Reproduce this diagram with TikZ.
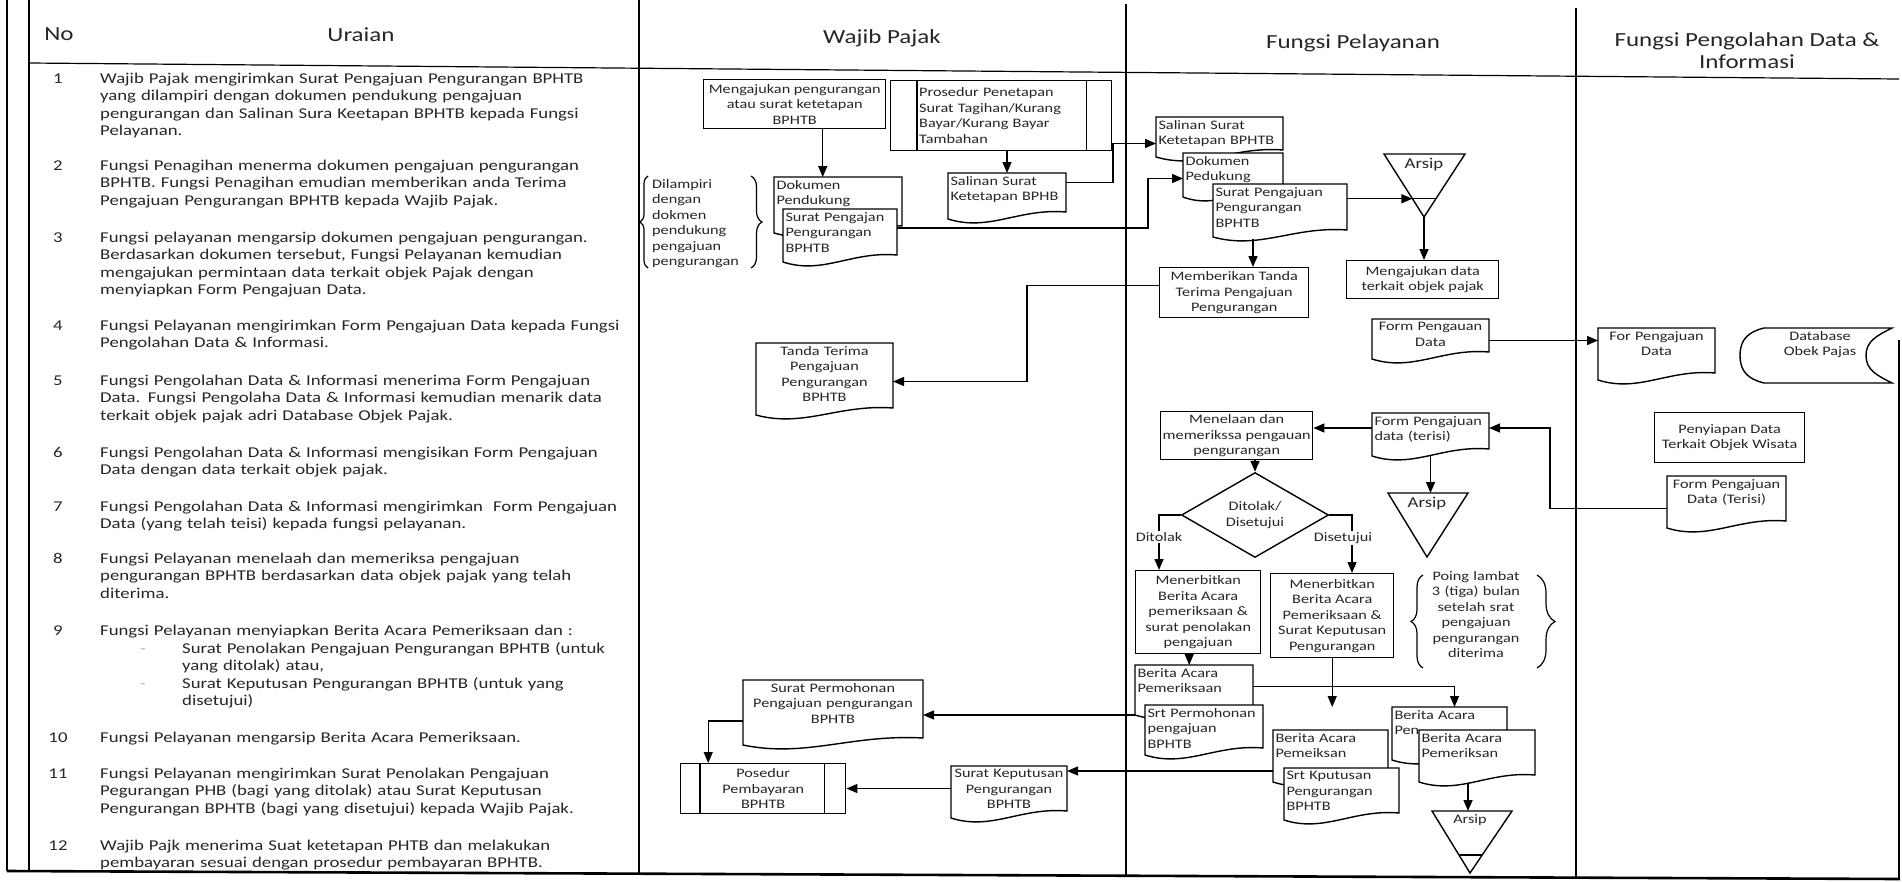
\documentclass[tikz,border=0pt]{standalone}
\usepackage{fontspec}
\setmainfont{Carlito}[FakeStretch=1.25]
\usetikzlibrary{calc,arrows.meta,shapes.geometric,decorations.pathreplacing}

\newcommand\chartfont{\fontsize{13}{15.5}\selectfont}
\newcommand\itemfont{\fontsize{15}{17.5}\selectfont}
\newcommand\headfont{\fontsize{20}{22}\selectfont}

\tikzset{
  thickrule/.style={line width=2.6pt},
  thinrule/.style={line width=1.2pt},
  link/.style={line width=1.4pt},
  arr/.style={link, -{Triangle[length=11pt,width=9pt]}},
  proc/.style={draw, line width=1.4pt, anchor=north west, inner sep=1pt, align=center, font=\chartfont},
  docarea/.style={anchor=north west, inner sep=0pt, outer sep=0pt},
  doctext/.style={anchor=north, inner sep=0pt, font=\chartfont},
  docline/.style={line width=1.4pt, fill=white},
  tri/.style={line width=1.4pt},
  brc/.style={decorate, decoration={brace, amplitude=#1}, line width=1.2pt},
  lbl/.style={inner sep=1pt, font=\chartfont},
  colhead/.style={inner sep=0pt, align=center, font=\headfont},
  nomor/.style={anchor=base, inner sep=0pt, font=\itemfont},
  uraian/.style={anchor=base west, inner sep=0pt, text width=545pt, align=left, font=\itemfont},
}

% document symbol: name, align, top-left, width, height, text
\newcommand{\docnode}[6]{%
  \node[docarea, minimum width=#4pt, minimum height=#5pt] (#1) at (#3) {};
  \draw[docline] (#1.north west) -- (#1.north east) -- (#1.south east)
    .. controls ($(#1.south west)!0.6!(#1.south east)+(0,4)$) and ($(#1.south west)!0.35!(#1.south east)+(0,-20)$)
    .. ($(#1.south west)+(0,-7)$) -- cycle;
  \pgfmathsetmacro\doctw{#4-5}%
  \node[doctext, text width=\doctw pt, align=#2] (#1-t) at ($(#1.north)+(0,-3)$) {#6};}

\begin{document}
\begin{tikzpicture}[x=1pt, y=1pt, every node/.append style={text=black!85}]
  \useasboundingbox (0,0) rectangle (1902,-881);

  %%%%% TABLE %%%%%
  \draw[thickrule] (7,0) -- (7,-871);
  \draw[thinrule] (29,0) -- (29,-871);
  \draw[thinrule] (639,0) -- (639,-873);
  \draw[thinrule] (1126,-4) -- (1126,-875);
  \draw[thinrule] (1576,-8) -- (1576,-877);
  \draw[thinrule] (1899,-340) -- (1899,-879);
  \draw[thinrule] (29,-63) -- (1899,-79);
  \draw[thickrule] (7,-871) -- (1900,-879);

  \node[colhead] (hno) at (59,-34) {No};
  \node[colhead] (hur) at (361,-35) {Uraian};
  \node[colhead] (hwp) at (882,-38) {Wajib Pajak};
  \node[colhead] (hfp) at (1353,-43) {Fungsi Pelayanan};
  \node[colhead] (hpd) at (1747,-51) {Fungsi Pengolahan Data \&\\Informasi};

  %%%%% URAIAN %%%%%
  \node[nomor] (n1) at (58,-83) {1};
  \node[uraian] (u1) at (100,-83) {Wajib Pajak mengirimkan Surat Pengajuan Pengurangan BPHTB\\yang dilampiri dengan dokumen pendukung pengajuan\\pengurangan dan Salinan Sura Keetapan BPHTB kepada Fungsi\\Pelayanan.};
  \node[nomor] (n2) at (58,-170) {2};
  \node[uraian] (u2) at (100,-170) {Fungsi Penagihan menerma dokumen pengajuan pengurangan\\BPHTB. Fungsi Penagihan emudian memberikan anda Terima\\Pengajuan Pengurangan BPHTB kepada Wajib Pajak.};
  \node[nomor] (n3) at (58,-242) {3};
  \node[uraian] (u3) at (100,-242) {Fungsi pelayanan mengarsip dokumen pengajuan pengurangan.\\Berdasarkan dokumen tersebut, Fungsi Pelayanan kemudian\\mengajukan permintaan data terkait objek Pajak dengan\\menyiapkan Form Pengajuan Data.};
  \node[nomor] (n4) at (58,-330) {4};
  \node[uraian] (u4) at (100,-330) {Fungsi Pelayanan mengirimkan Form Pengajuan Data kepada Fungsi\\Pengolahan Data \& Informasi.};
  \node[nomor] (n5) at (58,-385) {5};
  \node[uraian] (u5) at (100,-385) {Fungsi Pengolahan Data \& Informasi menerima Form Pengajuan\\Data. Fungsi Pengolaha Data \& Informasi kemudian menarik data\\terkait objek pajak adri Database Objek Pajak.};
  \node[nomor] (n6) at (58,-457) {6};
  \node[uraian] (u6) at (100,-457) {Fungsi Pengolahan Data \& Informasi mengisikan Form Pengajuan\\Data dengan data terkait objek pajak.};
  \node[nomor] (n7) at (58,-511) {7};
  \node[uraian] (u7) at (100,-511) {Fungsi Pengolahan Data \& Informasi mengirimkan\ \ Form Pengajuan\\Data (yang telah teisi) kepada fungsi pelayanan.};
  \node[nomor] (n8) at (58,-563) {8};
  \node[uraian] (u8) at (100,-563) {Fungsi Pelayanan menelaah dan memeriksa pengajuan\\pengurangan BPHTB berdasarkan data objek pajak yang telah\\diterima.};
  \node[nomor] (n9) at (58,-635) {9};
  \node[uraian] (u9) at (100,-635) {Fungsi Pelayanan menyiapkan Berita Acara Pemeriksaan dan :};
  \node[nomor, text=black!30] (b9a) at (143,-653) {-};
  \node[nomor, text=black!30] (b9b) at (143,-688) {-};
  \node[uraian, text width=460pt] (u9s) at (182,-653) {Surat Penolakan Pengajuan Pengurangan BPHTB (untuk\\yang ditolak) atau,\\Surat Keputusan Pengurangan BPHTB (untuk yang\\disetujui)};
  \node[nomor] (n10) at (58,-742) {10};
  \node[uraian] (u10) at (100,-742) {Fungsi Pelayanan mengarsip Berita Acara Pemeriksaan.};
  \node[nomor] (n11) at (58,-778) {11};
  \node[uraian] (u11) at (100,-778) {Fungsi Pelayanan mengirimkan Surat Penolakan Pengajuan\\Pegurangan PHB (bagi yang ditolak) atau Surat Keputusan\\Pengurangan BPHTB (bagi yang disetujui) kepada Wajib Pajak.};
  \node[nomor] (n12) at (58,-850) {12};
  \node[uraian] (u12) at (100,-850) {Wajib Pajk menerima Suat ketetapan PHTB dan melakukan\\pembayaran sesuai dengan prosedur pembayaran BPHTB.};

  %%%%% WAJIB PAJAK %%%%%
  \node[proc, minimum width=182pt, minimum height=49pt] (ajukan) at (703,-79) {Mengajukan pengurangan\\atau surat ketetapan\\BPHTB};
  \node[proc, minimum width=221pt, minimum height=70pt, text width=164pt, align=left] (pros) at (890,-80) {Prosedur Penetapan\\Surat Tagihan/Kurang\\Bayar/Kurang Bayar\\Tambahan};
  \draw[link] ($(pros.north west)+(27,0)$) -- ($(pros.south west)+(27,0)$);
  \draw[link] ($(pros.north east)+(-26,0)$) -- ($(pros.south east)+(-26,0)$);

  \docnode{dokwp}{left}{774,-177}{128}{49}{Dokumen\\Pendukung}
  \docnode{spwp}{left}{783,-209}{114}{46}{Surat Pengajan\\Pengurangan\\BPHTB}
  \docnode{salwp}{left}{948,-173}{118}{39}{Salinan Surat\\Ketetapan BPHB}

  \node[lbl, anchor=base west, align=left, text width=95pt, inner sep=0pt] (lampir) at (652,-188) {Dilampiri\\dengan\\dokmen\\pendukung\\pengajuan\\pengurangan};
  \draw[brc=8] (648,-268) -- (648,-176);
  \draw[brc=11] (751,-176) -- (751,-268);

  \docnode{tanda}{center}{756,-343}{137}{65}{Tanda Terima\\Pengajuan\\Pengurangan\\BPHTB}
  \docnode{permwp}{center}{743,-680}{180}{58}{Surat Permohonan\\Pengajuan pengurangan\\BPHTB}
  \node[proc, minimum width=165pt, minimum height=50pt] (posd) at (680,-763) {Posedur\\Pembayaran\\BPHTB};
  \draw[link] ($(posd.north west)+(20,0)$) -- ($(posd.south west)+(20,0)$);
  \draw[link] ($(posd.north east)+(-22,0)$) -- ($(posd.south east)+(-22,0)$);
  \docnode{skwp}{center}{951,-766}{116}{45}{Surat Keputusan\\Pengurangan\\BPHTB}

  %%%%% FUNGSI PELAYANAN %%%%%
  \docnode{salfp}{left}{1156,-117}{127}{33}{Salinan Surat\\Ketetapan BPHTB}
  \docnode{dokfp}{left}{1183,-153}{100}{37}{Dokumen\\Pedukung}
  \docnode{spfp}{left}{1213,-184}{134}{46}{Surat Pengajuan\\Pengurangan\\BPHTB}

  \coordinate (arsA-l) at (1384,-154);
  \coordinate (arsA-r) at (1465,-154);
  \coordinate (arsA-b) at (1424,-217);
  \draw[tri] (arsA-l) -- (arsA-r) -- (arsA-b) -- cycle;
  \coordinate (arsA-m) at ($(arsA-l)!0.71!(arsA-b)$);
  \draw[link] (arsA-m) -- ($(arsA-r)!0.71!(arsA-b)$);
  \node[inner sep=0pt, font=\itemfont] (arsA-t) at (1424,-165) {Arsip};

  \node[proc, minimum width=152pt, minimum height=38pt] (ajdata) at (1346,-260) {Mengajukan data\\terkait objek pajak};
  \node[proc, minimum width=149pt, minimum height=50pt] (beri) at (1159,-267) {Memberikan Tanda\\Terima Pengajuan\\Pengurangan};
  \docnode{formA}{center}{1372,-319}{117}{33}{Form Pengauan\\Data}
  \docnode{formfp}{left}{1372,-413}{117}{36}{Form Pengajuan\\data (terisi)}
  \node[proc, minimum width=152pt, minimum height=48pt] (menel) at (1160,-411) {Menelaan dan\\memerikssa pengauan\\pengurangan};
  \node[draw, diamond, line width=1.4pt, minimum width=147pt, minimum height=82pt, inner sep=0pt, align=center, font=\chartfont] (dia) at (1255,-515) {Ditolak/\\Disetujui};

  \coordinate (arsB-l) at (1388,-493);
  \coordinate (arsB-r) at (1468,-493);
  \coordinate (arsB-b) at (1427,-557);
  \draw[tri] (arsB-l) -- (arsB-r) -- (arsB-b) -- cycle;
  \node[inner sep=0pt, font=\itemfont] (arsB-t) at (1427,-504) {Arsip};

  \node[lbl] (lbltol) at (1159,-537) {Ditolak};
  \node[lbl] (lblset) at (1343,-538) {Disetujui};
  \node[proc, minimum width=125pt, minimum height=83pt] (mtol) at (1135,-570) {Menerbitkan\\Berita Acara\\pemeriksaan \&\\surat penolakan\\pengajuan};
  \node[proc, minimum width=123pt, minimum height=84pt] (mset) at (1270,-573) {Menerbitkan\\Berita Acara\\Pemeriksaan \&\\Surat Keputusan\\Pengurangan};

  \node[lbl, anchor=base, align=center, text width=120pt, inner sep=0pt] (lambat) at (1476,-580) {Poing lambat\\3 (tiga) bulan\\setelah srat\\pengajuan\\pengurangan\\diterima};
  \draw[brc=12] (1423,-668) -- (1423,-575);
  \draw[brc=18] (1537,-575) -- (1537,-668);

  \docnode{baL}{left}{1135,-665}{118}{43}{Berita Acara\\Pemeriksaan}
  \docnode{srtP}{left}{1145,-705}{118}{43}{Srt Permohonan\\pengajuan\\BPHTB}
  \docnode{baM}{left}{1273,-730}{115}{45}{Berita Acara\\Pemeiksan}
  \docnode{srtK}{left}{1284,-768}{115}{45}{Srt Kputusan\\Pengurangan\\BPHTB}
  \docnode{baR}{left}{1392,-707}{115}{46}{Berita Acara\\Pen}
  \docnode{baF}{left}{1419,-730}{116}{45}{Berita Acara\\Pemeriksan}

  \coordinate (arsC-l) at (1432,-811);
  \coordinate (arsC-r) at (1512,-811);
  \coordinate (arsC-b) at (1470,-873);
  \draw[tri] (arsC-l) -- (arsC-r) -- (arsC-b) -- cycle;
  \draw[link] ($(arsC-l)!0.71!(arsC-b)$) -- ($(arsC-r)!0.71!(arsC-b)$);
  \node[inner sep=0pt, font=\chartfont] (arsC-t) at (1470,-820) {Arsip};

  %%%%% PENGOLAHAN DATA %%%%%
  \docnode{forpd}{center}{1598,-328}{117}{45}{For Pengajuan\\Data}
  \node[docarea, minimum width=152pt, minimum height=55pt] (db) at (1740,-328) {};
  \draw[docline] ($(db.north west)+(24,0)$) -- (db.north east)
    .. controls +(-16,-8) and +(0,14) .. ($(db.east)+(-26,0)$)
    .. controls +(0,-14) and +(-16,8) .. (db.south east)
    -- ($(db.south west)+(24,0)$)
    .. controls +(-16,4) and +(0,-16) .. (db.west)
    .. controls +(0,16) and +(-16,-4) .. ($(db.north west)+(24,0)$);
  \node[doctext, align=center] (db-t) at ($(db.north)+(4,-3)$) {Database\\Obek Pajas};
  \node[proc, minimum width=150pt, minimum height=50pt] (siap) at (1654,-412) {Penyiapan Data\\Terkait Objek Wisata};
  \docnode{formT}{center}{1667,-476}{119}{45}{Form Pengajuan\\Data (Terisi)}

  %%%%% CONNECTORS %%%%%
  \draw[arr] ($(ajukan.south)+(28,0)$) -- ($(ajukan.south |- dokwp.north)+(28,0)$);
  \draw[arr] (salwp.north |- pros.south) -- (salwp.north);
  \draw[arr] ($(salwp.east)+(0,10)$) -- ++(47,0) |- ($(salfp.west)+(0,-10)$);
  \draw[arr] ($(spwp.east)+(0,4)$) -- ++(251,0) |- ($(dokfp.west)+(0,-7)$);
  \draw[arr] (spfp.east |- arsA-m) -- (arsA-m);
  \draw[arr] (arsA-b) -- (arsA-b |- ajdata.north);
  \draw[arr] ($(spfp.south)+(-27,-9)$) -- ($(spfp.south |- beri.north)+(-27,0)$);
  \draw[arr] ($(beri.west)+(0,7)$) -- ++(-132,0) |- ($(tanda.east)+(0,-6)$);
  \draw[arr] ($(formA.east)+(0,-5)$) -- ($(formA.east -| forpd.west)+(0,-5)$);
  \draw[arr] ($(formT.west)+(0,-10)$) -- ++(-117,0) |- ($(formfp.east)+(0,3)$);
  \draw[arr] ($(formfp.west)+(0,3)$) -- ($(formfp.west -| menel.east)+(0,3)$);
  \draw[arr] ($(formfp.south)+(0,-6)$) -- (formfp.south |- arsB-l);
  \draw[arr] (menel.south -| dia.north) -- (dia.north);
  \draw[link] (dia.west) -| (lbltol.north);
  \draw[arr] (lbltol.south) -- (lbltol.south |- mtol.north);
  \draw[link] (dia.east) -| ($(lblset.north)+(9,0)$);
  \draw[arr] ($(lblset.south)+(9,0)$) -- ($(lblset.south |- mset.north)+(9,0)$);
  \draw[arr] ($(mtol.south)+(-9,0)$) -- ($(mtol.south |- baL.north)+(-9,0)$);
  \draw[arr] (mset.south) -- (mset.south |- baR.north);
  \draw[arr] (baL.east) -| ($(baR.north)+(5,0)$);
  \draw[arr] ($(baL.south west)+(0,-7)$) -- ($(baL.south west -| permwp.east)+(0,-7)$);
  \draw[arr] ($(srtK.north west -| baM.west)+(0,-3)$) -- ($(srtK.north west -| skwp.east)+(0,-3)$);
  \draw[arr] ($(baF.south)+(-9,-9)$) -- ($(baF.south |- arsC-l)+(-9,0)$);
  \draw[arr] ($(permwp.west)+(0,-12)$) -| ($(posd.north)+(-55,0)$);
  \draw[arr] (skwp.west) -- (skwp.west -| posd.east);
\end{tikzpicture}
\end{document}
